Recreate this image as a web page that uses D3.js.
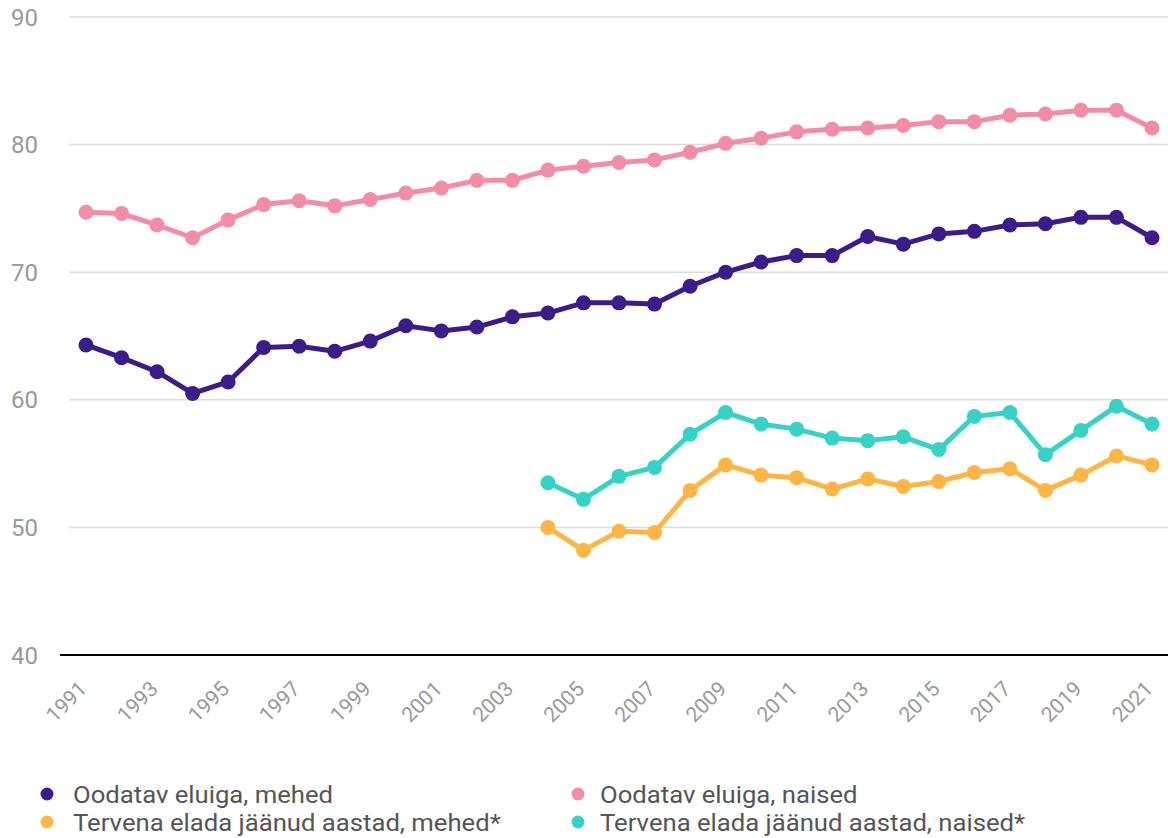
<!DOCTYPE html>
<html>
<head>
<meta charset="utf-8">
<script src="https://cdn.jsdelivr.net/npm/d3@7"></script>
<style>
  html, body { margin: 0; padding: 0; background: #fff; }
  svg { display: block; font-family: Roboto, "Noto Sans", sans-serif; }
</style>
</head>
<body>
<svg id="chart" width="1168" height="838"></svg>
<script>
// Years 1991–2021
const years = d3.range(1991, 2022);

// Life expectancy at birth
const lifeMen = [64.3, 63.3, 62.2, 60.5, 61.4, 64.1, 64.2, 63.8, 64.6, 65.8,
  65.4, 65.7, 66.5, 66.8, 67.6, 67.6, 67.5, 68.9, 70.0, 70.8,
  71.3, 71.3, 72.8, 72.2, 73.0, 73.2, 73.7, 73.8, 74.3, 74.3, 72.7];
const lifeWomen = [74.7, 74.6, 73.7, 72.7, 74.1, 75.3, 75.6, 75.2, 75.7, 76.2,
  76.6, 77.2, 77.2, 78.0, 78.3, 78.6, 78.8, 79.4, 80.1, 80.5,
  81.0, 81.2, 81.3, 81.5, 81.8, 81.8, 82.3, 82.4, 82.7, 82.7, 81.3];

// Healthy life years, available from 2004
const healthyYears = d3.range(2004, 2022);
const healthyMen = [50.0, 48.2, 49.7, 49.6, 52.9, 54.9, 54.1, 53.9, 53.0, 53.8,
  53.2, 53.6, 54.3, 54.6, 52.9, 54.1, 55.6, 54.9];
const healthyWomen = [53.5, 52.2, 54.0, 54.7, 57.3, 59.0, 58.1, 57.7, 57.0, 56.8,
  57.1, 56.1, 58.7, 59.0, 55.7, 57.6, 59.5, 58.1];

const yTicks = [40, 50, 60, 70, 80, 90];
const xTickYears = d3.range(1991, 2022, 2);

const series = [
  { name: "Oodatav eluiga, mehed", color: "#3c1b8a", x: years, y: lifeMen },
  { name: "Oodatav eluiga, naised", color: "#f28ca7", x: years, y: lifeWomen },
  { name: "Tervena elada jäänud aastad, mehed*", color: "#fdb544", x: healthyYears, y: healthyMen },
  { name: "Tervena elada jäänud aastad, naised*", color: "#35d3c6", x: healthyYears, y: healthyWomen }
];

const svg = d3.select("#chart");

const x = d3.scaleLinear().domain([1991, 2021]).range([86, 1152]);
const y = d3.scaleLinear().domain([40, 90]).range([655, 17]);

// Horizontal grid
svg.append("g")
  .selectAll("line")
  .data(yTicks.filter(d => d > 40))
  .join("line")
  .attr("x1", 69).attr("x2", 1168)
  .attr("y1", d => y(d)).attr("y2", d => y(d))
  .attr("stroke", "#dcdcdc").attr("stroke-width", 1.5);

// Y labels
svg.append("g")
  .selectAll("text")
  .data(yTicks)
  .join("text")
  .attr("x", 11)
  .attr("y", d => y(d))
  .attr("dy", "0.36em")
  .attr("fill", "#999")
  .attr("font-size", 24)
  .text(d => d);

// Baseline
svg.append("line")
  .attr("x1", 60).attr("x2", 1168)
  .attr("y1", y(40)).attr("y2", y(40))
  .attr("stroke", "#000").attr("stroke-width", 2);

// X labels, rotated
svg.append("g")
  .selectAll("text")
  .data(xTickYears)
  .join("text")
  .attr("transform", d => `translate(${x(d) - 3},${y(40) + 30}) rotate(-45)`)
  .attr("text-anchor", "end")
  .attr("dy", "0.35em")
  .attr("fill", "#999")
  .attr("font-size", 21)
  .text(d => d);

// Lines and markers
const line = d3.line().x(d => x(d[0])).y(d => y(d[1]));
series.forEach(s => {
  const pts = s.x.map((yr, i) => [yr, s.y[i]]);
  const g = svg.append("g");
  g.append("path")
    .datum(pts)
    .attr("d", line)
    .attr("fill", "none")
    .attr("stroke", s.color)
    .attr("stroke-width", 5)
    .attr("stroke-linejoin", "round");
  g.selectAll("circle")
    .data(pts)
    .join("circle")
    .attr("cx", d => x(d[0]))
    .attr("cy", d => y(d[1]))
    .attr("r", 7.5)
    .attr("fill", s.color);
});

// Legend: two columns, two rows
const legendPos = [[47, 794, 26], [578, 794, 22], [47, 822, 26], [578, 822, 22]];
const legend = svg.append("g")
  .selectAll("g")
  .data(series)
  .join("g")
  .attr("transform", (d, i) => `translate(${legendPos[i][0]},${legendPos[i][1]})`);
legend.append("circle").attr("r", 6.5).attr("fill", d => d.color);
legend.append("text")
  .attr("transform", (d, i) => `translate(${legendPos[i][2]},0) scale(1.07,1)`)
  .attr("dy", "0.36em")
  .attr("fill", "#555")
  .attr("font-size", 24)
  .text(d => d.name);
</script>
</body>
</html>
